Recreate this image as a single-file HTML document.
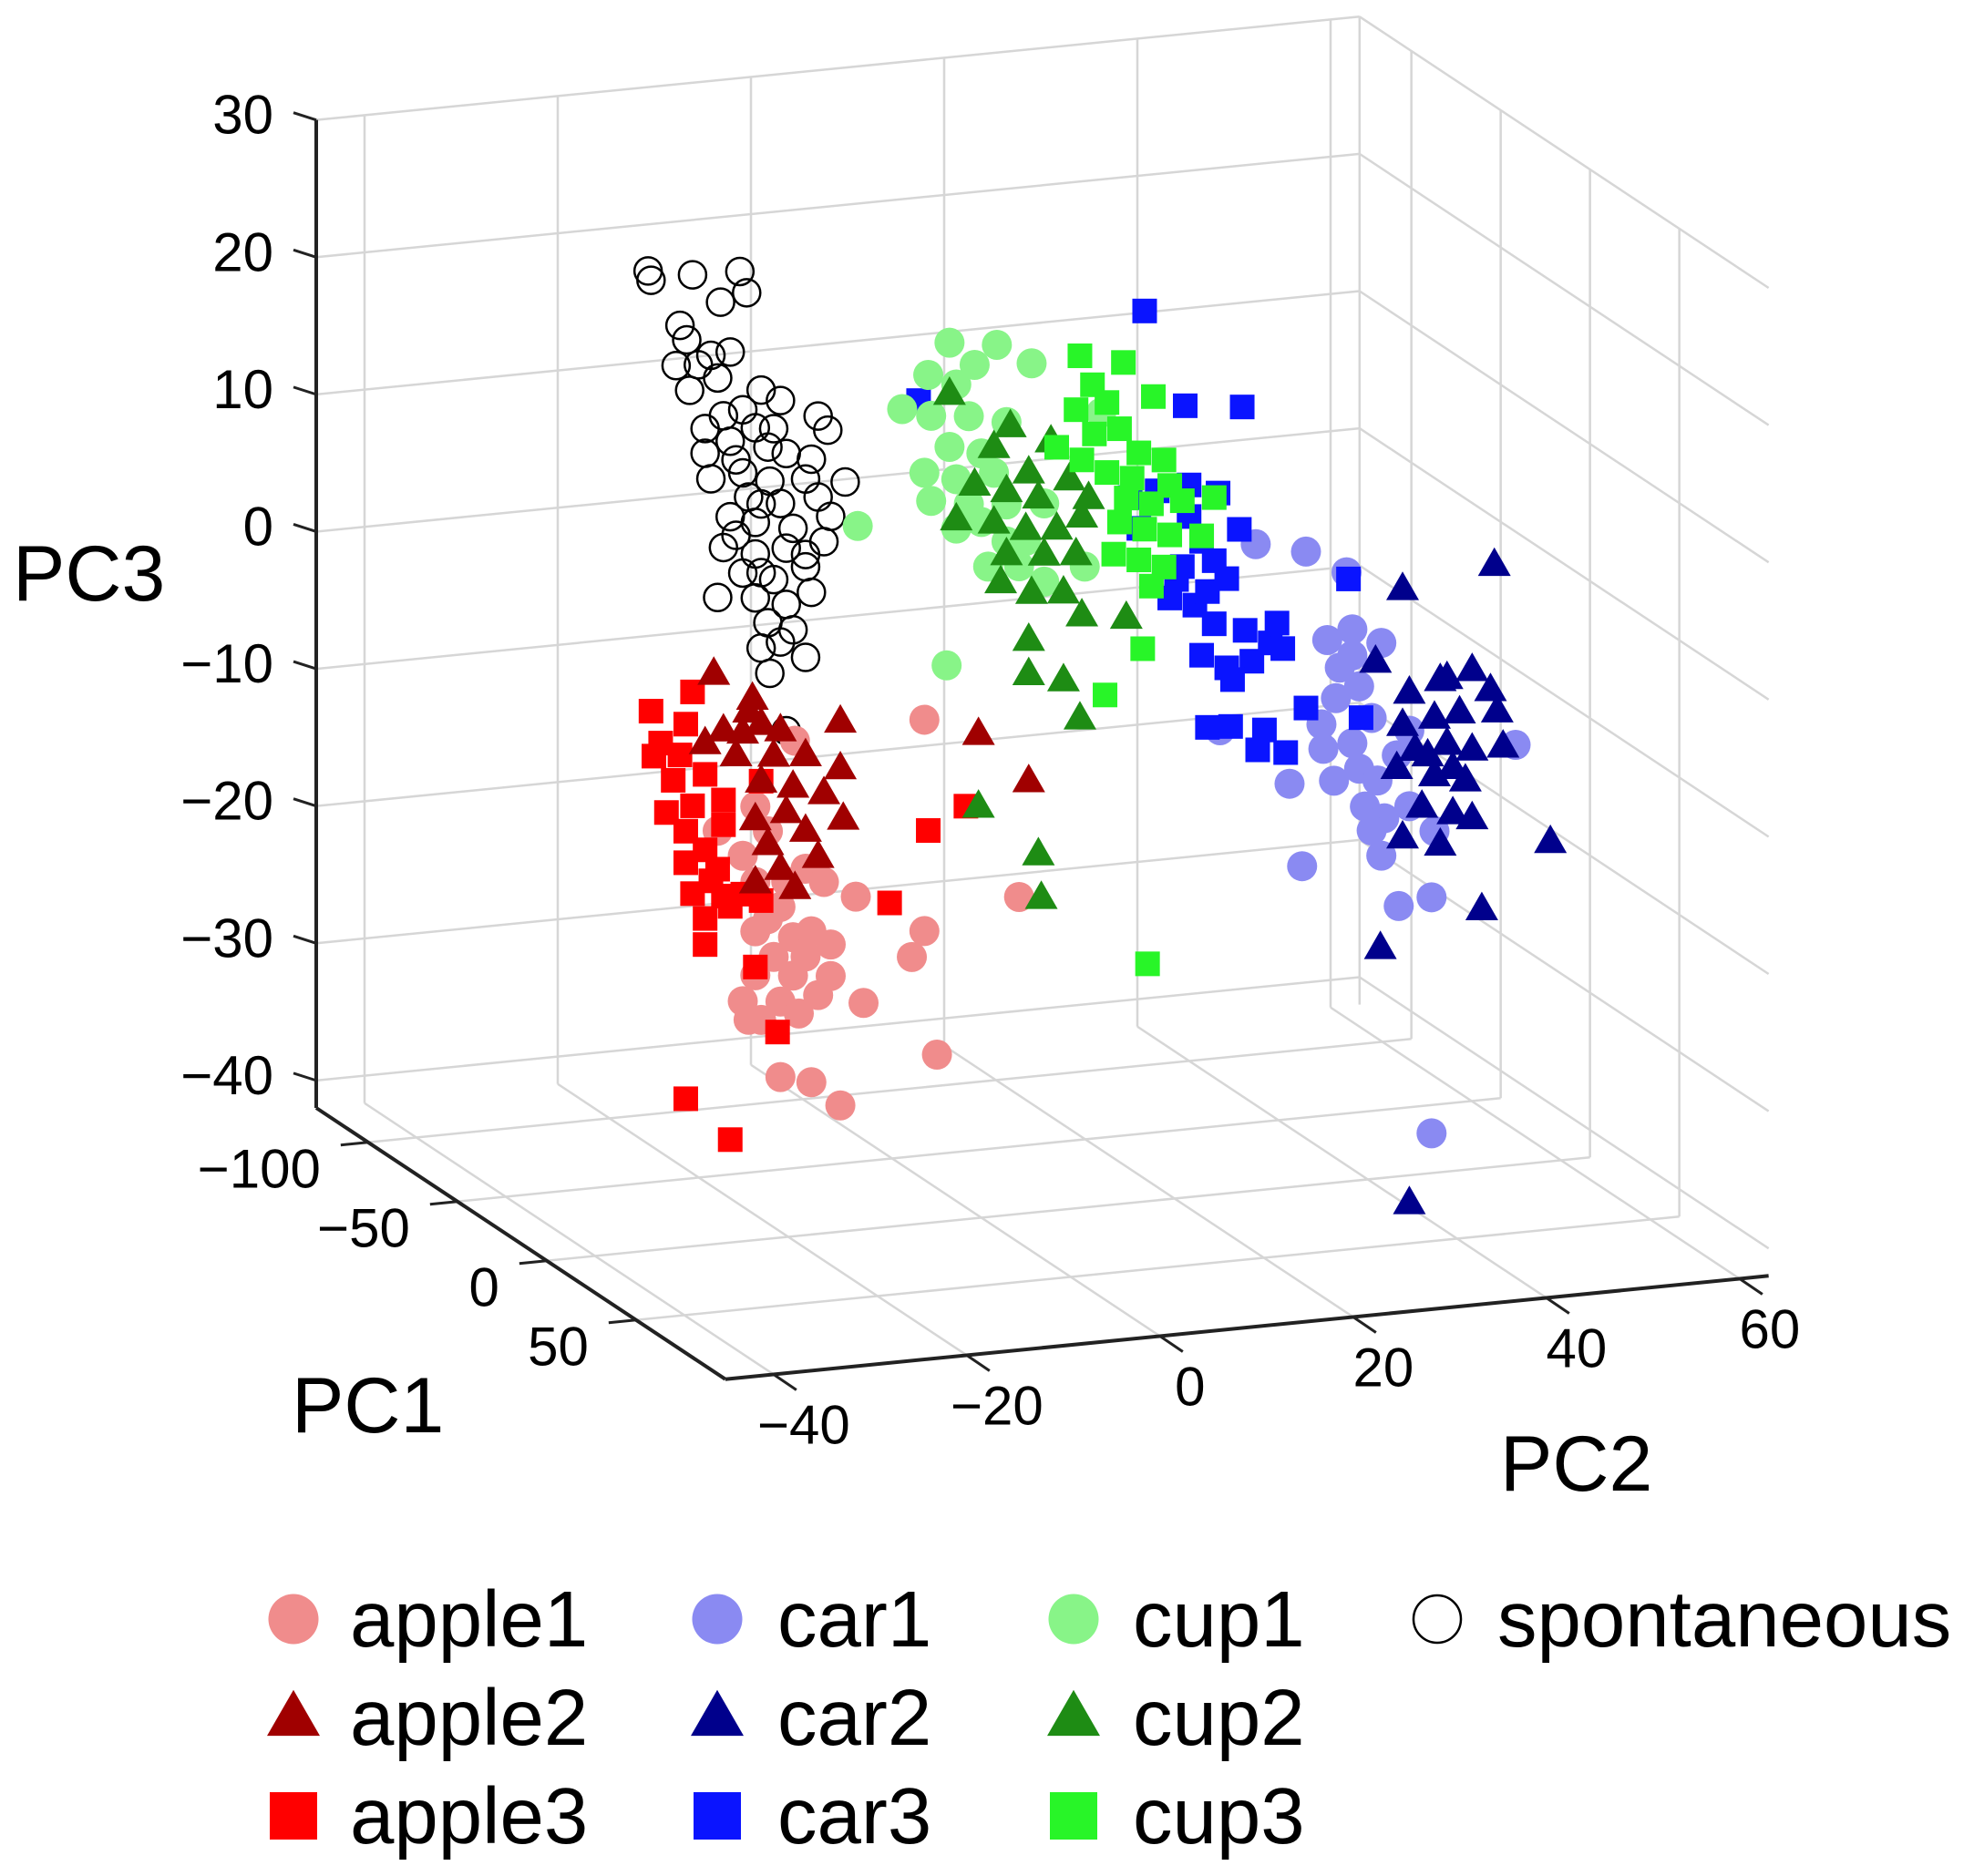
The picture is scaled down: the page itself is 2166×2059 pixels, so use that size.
<!DOCTYPE html>
<html><head><meta charset="utf-8"><style>
html,body{margin:0;padding:0;background:#fff}
svg{display:block;font-family:"Liberation Sans",Arial,sans-serif}
</style></head><body>
<svg id="chart" width="2166" height="2059" viewBox="0 0 2166 2059" xmlns="http://www.w3.org/2000/svg">
<g id="grid"></g>
<g id="axes"></g>
<g id="marks"></g>
<text x="14" y="659" font-size="86">PC3</text>
<text x="320" y="1572" font-size="86">PC1</text>
<text x="1646" y="1636" font-size="86">PC2</text>
<g id="legend"></g>
</svg>
<script>
const pc1Ticks=[-100,-50,0,50];
const pc2Ticks=[-40,-20,0,20,40,60];
const pc3Ticks=[-40,-30,-20,-10,0,10,20,30];
const pc1Range=[-129,100];
const pc2Range=[-45,63];
const pc3Range=[-42,30];

const spontaneousPC2=[-34.5,-34.2,-29.9,-25.0,-27.0,-24.3,-31.2,-30.5,-28.0,-26.0,-31.6,-29.3,-30.2,-27.3,-22.8,-20.8,-16.9,-15.9,-26.7,-24.7,-23.4,-26.0,-28.6,-22.1,-20.2,-17.6,-28.0,-24.7,-21.9,-18.2,-14.1,-24.1,-20.8,-16.9,-26.0,-23.4,-19.5,-15.6,-26.7,-23.4,-20.2,-16.3,-24.7,-21.5,-18.2,-23.4,-20.2,-17.6,-27.3,-22.1,-19.5,-22.8,-18.2,-21.9,-20.2,-28.6,-21.5,-25.4,-22.8,-25.4,-18.2,-22.8,-20.8];
const spontaneousPC3=[29.4,28.7,28.8,28.7,26.6,27.1,25.2,24.1,22.8,22.9,22.3,22.2,20.4,21.1,19.9,19.0,17.6,16.5,18.3,18.6,17.2,16.4,15.7,15.7,15.1,14.5,13.8,14.0,13.2,13.1,12.6,12.2,11.5,11.7,10.9,10.3,9.6,10.2,8.7,8.0,8.2,8.4,6.7,6.0,6.7,4.8,4.1,4.8,5.1,2.9,2.2,1.1,0.1,-0.8,-5.1,17.5,17.0,15.0,11.6,9.5,7.6,6.6,1.4];
const apple1PC2=[-5.9,-19.3,-23.4,-22.1,-23.4,-20.2,-18.2,-16.3,-13.0,-20.8,-23.4,-19.5,-17.6,-21.5,-23.4,-19.5,-15.6,-24.7,-20.8,-16.9,-24.1,-18.9,-12.2,-7.2,-5.9,-20.8,-17.6,-14.6,-4.6,3.9,-27.3,-24.7,-22.1,-18.2,-15.6,-22.8];
const apple1PC3=[-5.3,-5.9,-10.4,-12.3,-15.9,-16.1,-15.3,-16.4,-17.7,-17.9,-19.5,-20.2,-19.9,-21.5,-22.7,-23.0,-23.3,-24.5,-24.8,-24.6,-25.9,-25.8,-25.5,-22.5,-20.7,-30.3,-30.9,-32.8,-29.8,-18.9,-11.9,-13.9,-18.7,-21.7,-21.0,-26.0];
const apple2PC2=[-27.7,-23.7,-22.8,-26.7,-24.7,-20.8,-14.6,-18.2,-14.6,-22.8,-19.5,-16.3,-14.3,-23.4,-20.2,-18.2,-22.1,-16.9,-20.8,-19.3,-23.4,-0.3,4.9,-28.6,-25.4,-21.5,-24.1];
const apple2PC3=[-0.4,-2.5,-4.4,-4.6,-4.9,-5.0,-4.8,-7.0,-8.2,-8.6,-9.2,-9.9,-11.9,-11.3,-11.0,-12.5,-13.2,-14.5,-15.1,-16.6,-15.9,-6.7,-10.5,-5.4,-6.5,-6.8,-3.4];
const apple3PC2=[-29.9,-34.2,-33.2,-33.9,-31.2,-31.9,-28.6,-32.6,-29.9,-26.7,-30.6,-28.6,-30.6,-27.3,-29.9,-26.7,-28.6,-28.6,-26.0,-22.8,-23.4,-21.1,-30.6,-26.0,-9.5,-5.5,-1.6,-30.6,-24.7,-28.0,-22.8,-26.7];
const apple3PC3=[-1.6,-2.7,-5.1,-6.0,-6.1,-7.9,-7.7,-10.2,-9.9,-9.7,-11.7,-13.2,-14.0,-14.7,-16.3,-16.7,-18.2,-20.1,-17.5,-17.3,-22.1,-27.0,-31.2,-34.5,-18.4,-13.4,-11.9,-3.9,-16.7,-15.5,-8.6,-11.5];
const car1PC2=[28.4,33.6,37.8,35.8,38.4,41.4,37.1,39.1,36.7,35.2,40.4,38.4,35.4,39.1,41.0,39.7,41.7,44.3,41.4,46.9,43.2,46.6,33.2,31.9,24.7,55.3,46.6,36.5,43.0,40.4,44.3,38.4];
const car1PC3=[5.1,4.2,2.4,-2.4,-1.8,-3.0,-4.5,-6.0,-6.7,-8.5,-8.4,-10.1,-10.3,-12.0,-13.0,-14.8,-15.8,-15.1,-18.5,-17.1,-22.3,-21.9,-18.7,-12.6,-8.2,-11.4,-39.1,-12.7,-11.3,-16.6,-9.6,-3.7];
const car2PC2=[53.1,43.6,40.8,44.3,48.2,50.8,52.7,43.6,46.9,49.5,53.4,44.9,48.2,50.8,54.0,43.0,46.9,50.1,45.6,48.8,50.8,43.6,47.5,58.9,51.8,41.3,44.3,48.8,46.2,47.5];
const car2PC3=[1.9,0.8,-4.3,-6.8,-6.0,-5.6,-7.2,-9.1,-8.8,-8.6,-8.8,-11.0,-10.8,-11.4,-11.4,-12.2,-13.0,-13.6,-15.2,-15.9,-16.4,-17.3,-18.1,-18.7,-23.1,-25.2,-44.0,-12.6,-11.5,-6.1];
const car3PC2=[16.9,-6.5,21.1,27.0,15.4,18.2,21.5,24.5,26.7,22.8,24.1,20.8,25.4,19.5,22.1,24.1,27.3,30.6,29.9,22.8,25.4,28.0,31.2,26.0,23.4,25.8,29.3,31.5,28.6,33.6,39.3,38.0,20.2,23.4,16.3,21.5];
const car3PC3=[22.9,18.0,15.7,15.2,9.4,9.7,9.9,9.1,6.3,5.7,4.2,4.0,2.8,1.8,1.1,-0.4,-1.1,-0.8,-2.2,-2.6,-3.7,-3.4,-2.7,-4.6,-7.9,-8.0,-8.5,-10.3,-9.9,-7.2,-8.3,1.9,3.1,2.0,7.1,7.6];
const cup1PC2=[-3.3,1.6,-0.7,5.2,-5.5,-2.6,-8.2,-5.2,-1.3,2.6,-5.9,-3.3,0.0,-2.6,1.3,-5.2,-1.3,2.6,-2.6,0.0,2.6,0.7,3.9,6.5,10.7,12.4,-12.8,-3.6,6.5,4.6];
const cup1PC3=[22.0,21.5,20.2,19.9,19.8,18.9,17.5,16.8,16.5,15.8,12.7,14.4,13.7,12.0,12.2,10.6,10.1,9.8,8.4,8.7,7.1,5.4,5.2,3.9,4.7,15.8,9.3,-1.5,9.6,7.0];
const cup2PC2=[-3.3,3.0,4.9,7.2,1.3,-0.7,2.6,5.9,9.1,11.1,-2.6,1.3,4.6,7.8,10.4,6.5,9.8,2.0,5.2,8.5,10.4,15.0,4.9,8.5,10.2,4.9,-0.3,5.9,6.2,2.6];
const cup2PC3=[18.3,15.5,12.0,14.1,14.1,11.5,10.8,10.1,11.2,9.7,9.1,8.6,7.9,7.7,8.4,5.9,5.7,4.2,3.2,3.0,1.2,0.7,-0.2,-3.4,-6.3,-2.7,-12.0,-15.9,-19.1,6.2];
const cup3PC2=[10.2,14.7,11.5,17.8,9.8,13.0,11.7,14.3,10.4,13.0,16.3,18.9,15.0,17.6,20.8,24.1,14.3,16.9,19.5,22.8,13.7,16.3,18.9,17.6,16.7,12.8,17.2,7.8,19.5,15.6];
const cup3PC3=[20.1,19.3,17.9,16.6,16.2,16.5,14.3,14.5,12.5,11.4,12.6,11.9,9.4,8.8,8.8,8.8,7.7,7.0,6.4,6.1,5.4,4.8,4.1,2.8,-1.7,-4.8,-24.7,13.6,10.0,10.8];

const NS='http://www.w3.org/2000/svg';
function mk(tag,attrs,parent){const e=document.createElementNS(NS,tag);for(const k in attrs)e.setAttribute(k,attrs[k]);parent.appendChild(e);return e;}
function proj(p1,p2,p3){
  const a=p1-pc1Range[0], b=p2-pc2Range[0], c=p3-pc3Range[0];
  return [347+a*1.96+b*10.6, 1216+a*1.3-b*1.05-c*15.06];
}
const grid=document.getElementById('grid');
function gline(P,Q,name){const l=mk('line',{x1:P[0],y1:P[1],x2:Q[0],y2:Q[1],stroke:'#d6d6d6','stroke-width':2.5},grid);

}
const [x0,x1]=pc1Range,[y0,y1]=pc2Range,[z0,z1]=pc3Range;
pc3Ticks.forEach(z=>{gline(proj(x0,y0,z),proj(x0,y1,z),'back-wall-gridline');gline(proj(x0,y1,z),proj(x1,y1,z),'side-wall-gridline');});
pc2Ticks.forEach(y=>{gline(proj(x0,y,z0),proj(x0,y,z1),'back-wall-gridline');gline(proj(x0,y,z0),proj(x1,y,z0),'floor-gridline');});
pc1Ticks.forEach(x=>{gline(proj(x,y1,z0),proj(x,y1,z1),'side-wall-gridline');gline(proj(x,y0,z0),proj(x,y1,z0),'floor-gridline');});
gline(proj(x0,y1,z0),proj(x0,y1,z1),'back-corner-line');

const axes=document.getElementById('axes');
function aline(P,Q,name,w){const l=mk('line',{x1:P[0],y1:P[1],x2:Q[0],y2:Q[1],stroke:'#222','stroke-width':w},axes);

}
function atext(x,y,s,anchor,name){const t=mk('text',{x:x,y:y,'font-size':60,'text-anchor':anchor,fill:'#000'},axes);t.textContent=s;

}
function lab(v){return v<0?'\u2212'+Math.abs(v):String(v);}
aline(proj(x0,y0,z0),proj(x0,y0,z1),'pc3-axis-line',4);
aline(proj(x0,y0,z0),proj(x1,y0,z0),'pc1-axis-line',4);
aline(proj(x1,y0,z0),proj(x1,y1,z0),'pc2-axis-line',4);
pc3Ticks.forEach(z=>{const P=proj(x0,y0,z);aline(P,[P[0]-25,P[1]-8],'pc3-tick',3);atext(300,P[1]+15,lab(z),'end','pc3-tick-label');});
pc1Ticks.forEach(x=>{const P=proj(x,y0,z0);aline(P,[P[0]-30,P[1]+3],'pc1-tick',3);atext(P[0]-52,P[1]+50,lab(x),'end','pc1-tick-label');});
pc2Ticks.forEach(y=>{const P=proj(x1,y,z0);aline(P,[P[0]+25,P[1]+17],'pc2-tick',3);atext(P[0]+33,P[1]+76,lab(y),'middle','pc2-tick-label');});

const marks=document.getElementById('marks');
function marker(g,type,cx,cy,col,s){
  let e;
  if(type==='circle') e=mk('circle',{cx:cx,cy:cy,r:s/2,fill:col},g);
  else if(type==='open') e=mk('circle',{cx:cx,cy:cy,r:s/2,fill:'none',stroke:'#000','stroke-width':2.5},g);
  else if(type==='square') e=mk('rect',{x:cx-s/2,y:cy-s/2,width:s,height:s,fill:col},g);
  else {const h=s*0.87;e=mk('polygon',{points:`${cx},${cy-h*0.6} ${cx-s/2},${cy+h*0.4} ${cx+s/2},${cy+h*0.4}`,fill:col},g);}
  return e;
}
const seriesDefs=[
 ['spontaneous',spontaneousPC2,spontaneousPC3,'open','#000',30],
 ['apple1',apple1PC2,apple1PC3,'circle','#f08c8c',33],
 ['apple3',apple3PC2,apple3PC3,'square','#ff0000',27],
 ['apple2',apple2PC2,apple2PC3,'tri','#a00000',36],
 ['car1',car1PC2,car1PC3,'circle','#8a8af2',33],
 ['car3',car3PC2,car3PC3,'square','#0a14ff',27],
 ['car2',car2PC2,car2PC3,'tri','#00008c',36],
 ['cup1',cup1PC2,cup1PC3,'circle','#88f488',33],
 ['cup2',cup2PC2,cup2PC3,'tri','#1e8c14',36],
 ['cup3',cup3PC2,cup3PC3,'square','#28f528',27]
];
seriesDefs.forEach(([name,p2,p3,type,col,s])=>{
  const g=mk('g',{},marks);
  
  
  p2.forEach((v,i)=>{const P=proj(0,v,p3[i]);const e=marker(g,type,P[0],P[1],col,s);
    
    });
});

const legend=document.getElementById('legend');
const legendItems=[
 ['apple1','circle','#f08c8c',0,0],['apple2','tri','#a00000',0,1],['apple3','square','#ff0000',0,2],
 ['car1','circle','#8a8af2',1,0],['car2','tri','#00008c',1,1],['car3','square','#0a14ff',1,2],
 ['cup1','circle','#88f488',2,0],['cup2','tri','#1e8c14',2,1],['cup3','square','#28f528',2,2],
 ['spontaneous','open','#000',3,0]
];
const colX=[322,787,1178,1577], textX=[384,853,1243,1643], rowY=[1777,1885,1993];
legendItems.forEach(([name,type,col,c,r])=>{
  const g=mk('g',{},legend);
  
  
  const sz=type==='circle'?55:type==='open'?52:type==='square'?52:58;
  const m=marker(g,type,colX[c],rowY[r],col,sz);
  
  
  const t=mk('text',{x:textX[c],y:rowY[r]+30,'font-size':87,fill:'#000'},g);
  t.textContent=name;
  
  
});
</script>
</body></html>
